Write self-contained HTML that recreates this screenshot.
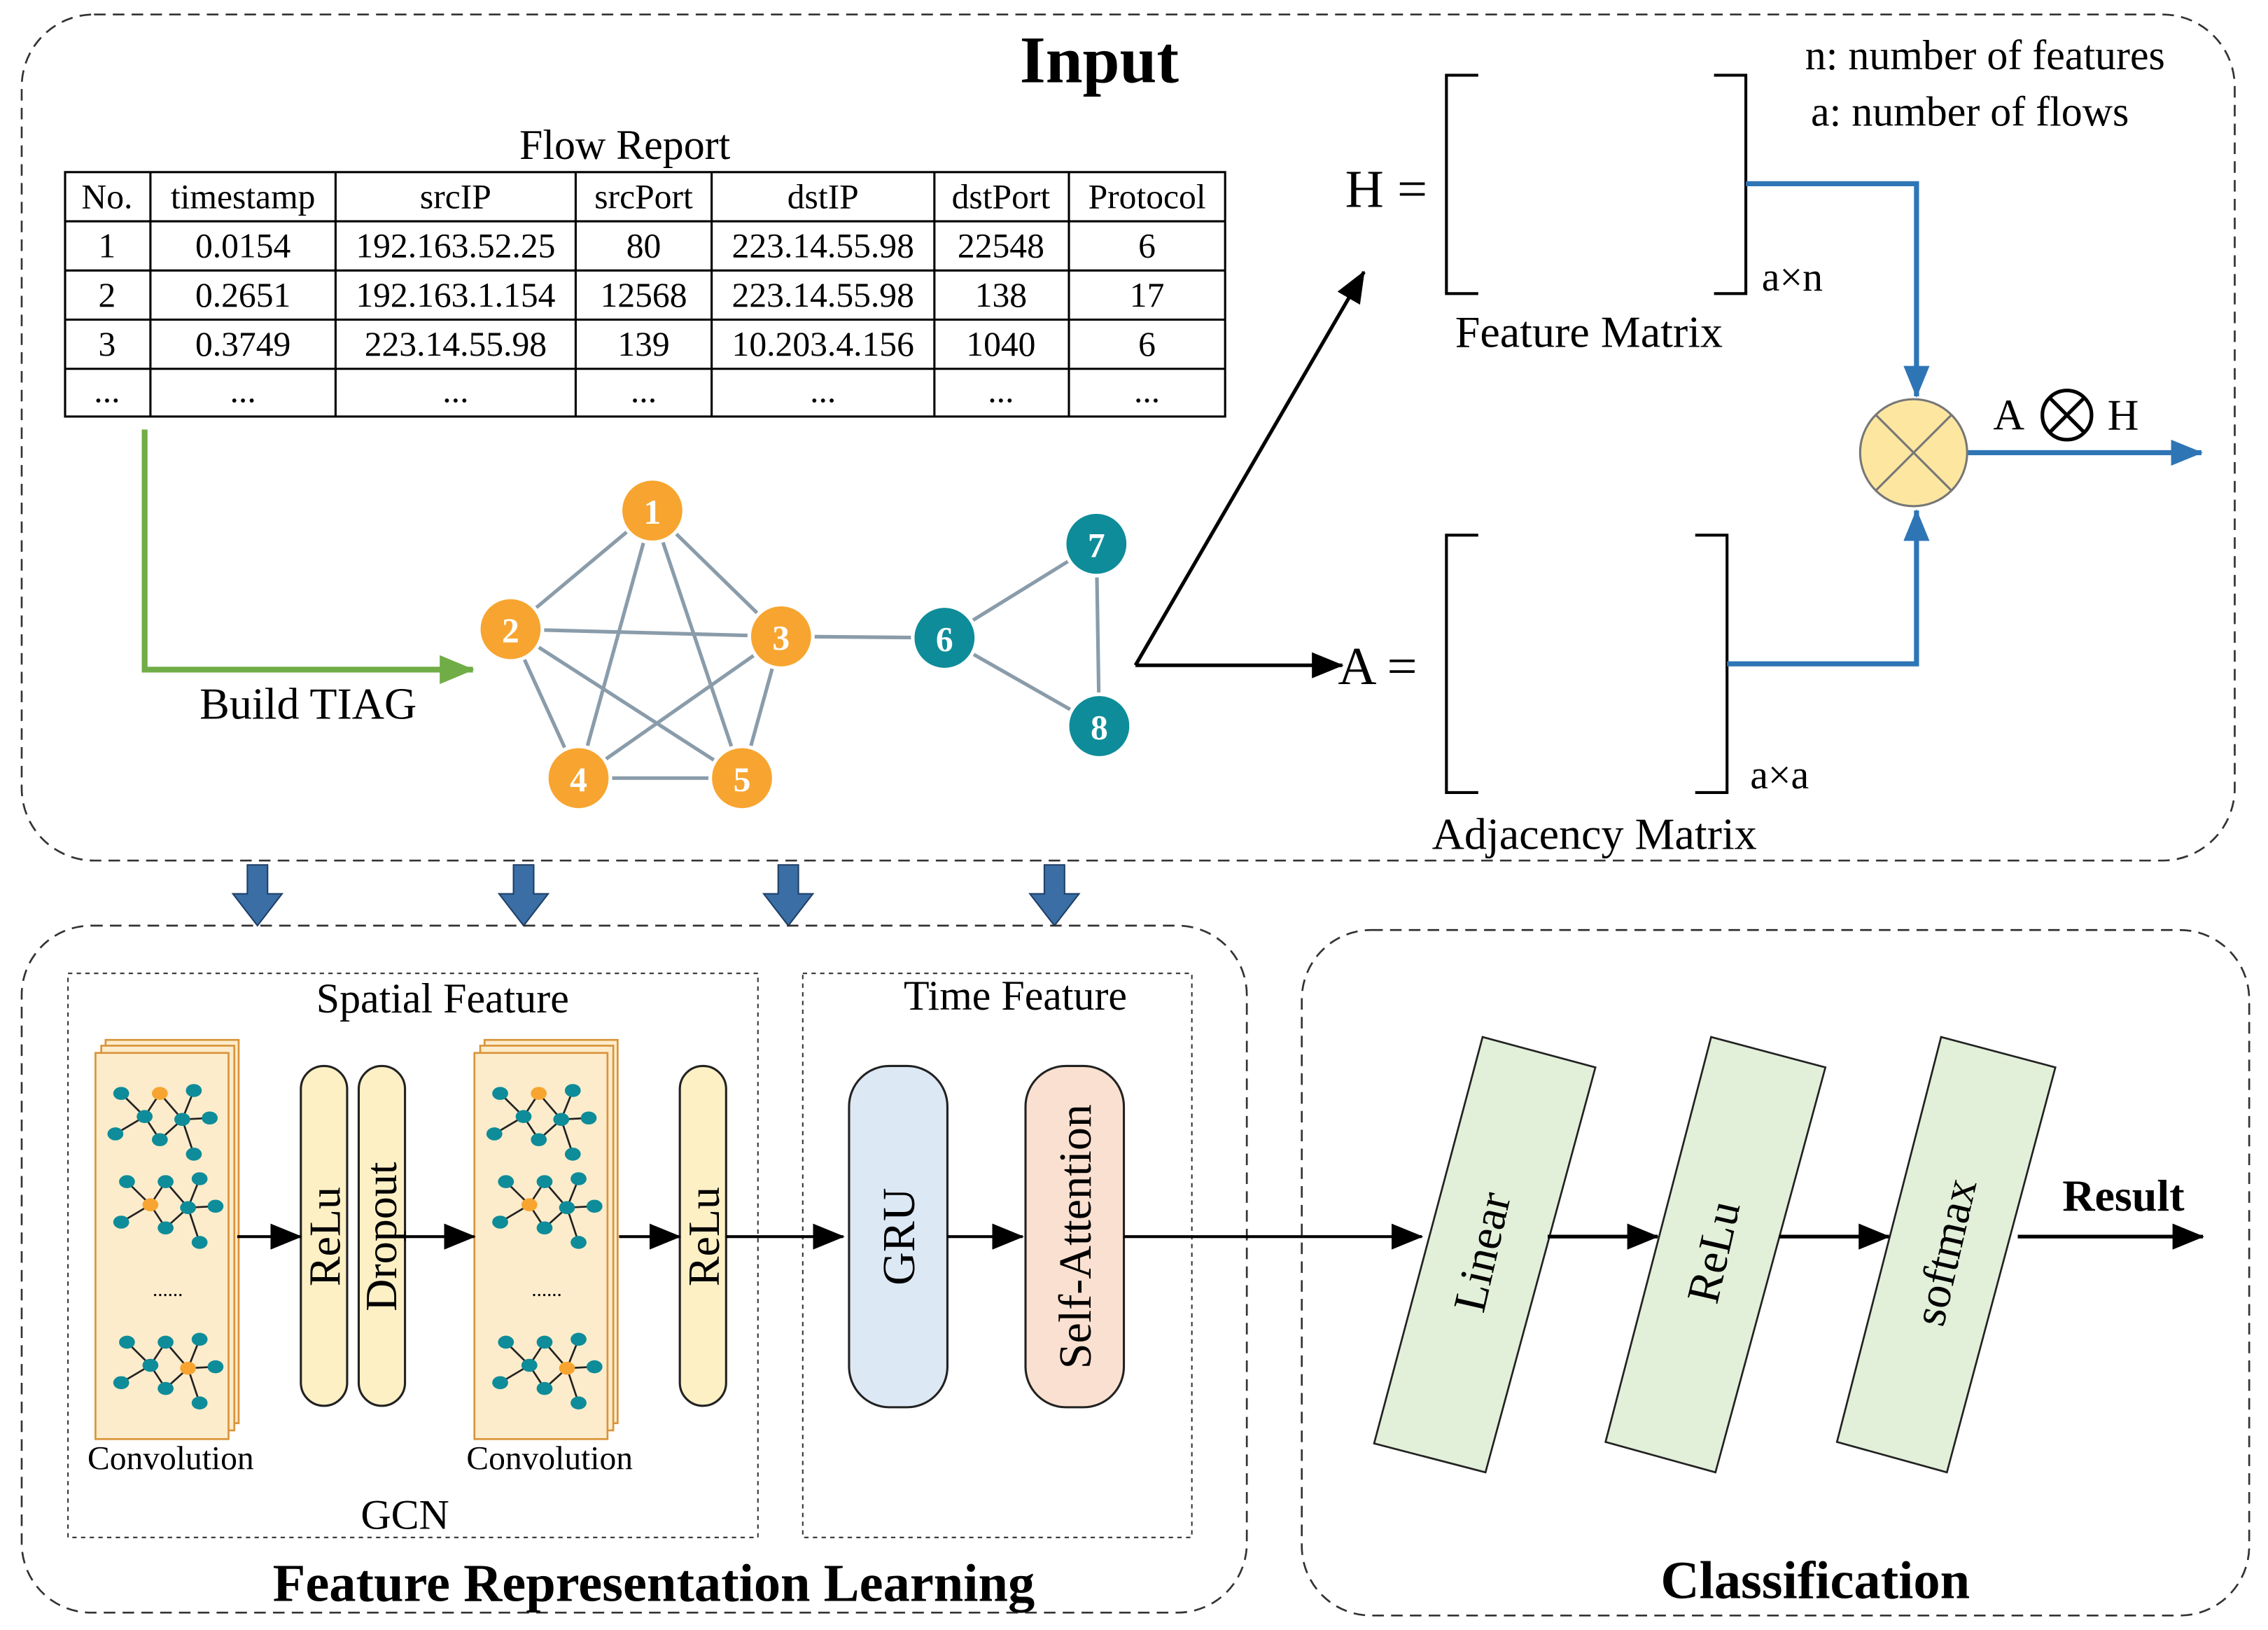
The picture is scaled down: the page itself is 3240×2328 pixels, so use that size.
<!DOCTYPE html>
<html><head><meta charset="utf-8"><style>
html,body{margin:0;padding:0;background:#fff;}
svg{display:block;}
text{font-family:"Liberation Serif",serif;fill:#000;}
</style></head><body>
<svg width="3240" height="2328" viewBox="0 0 1568 1127" preserveAspectRatio="none" xmlns="http://www.w3.org/2000/svg">
<defs>
<marker id="abk" markerWidth="22" markerHeight="18" refX="21" refY="9" orient="auto" markerUnits="userSpaceOnUse"><path d="M0,0 L22,9 L0,18 z" fill="#000"/></marker>
<marker id="abl" markerWidth="22" markerHeight="18" refX="21" refY="9" orient="auto" markerUnits="userSpaceOnUse"><path d="M0,0 L22,9 L0,18 z" fill="#2e75b6"/></marker>
<marker id="abg" markerWidth="24" markerHeight="20" refX="23" refY="10" orient="auto" markerUnits="userSpaceOnUse"><path d="M0,0 L24,10 L0,20 z" fill="#70ad47"/></marker>
<g id="mg">
 <g stroke="#222" stroke-width="1.3">
  <line x1="83.8" y1="756" x2="100" y2="772"/><line x1="110.5" y1="756" x2="100" y2="772"/>
  <line x1="110.5" y1="756" x2="126" y2="774"/><line x1="134" y1="754" x2="126" y2="774"/>
  <line x1="126" y1="774" x2="145" y2="773"/><line x1="126" y1="774" x2="134" y2="798"/>
  <line x1="100" y1="772" x2="79.8" y2="784"/><line x1="100" y1="772" x2="110.5" y2="788"/>
  <line x1="110.5" y1="788" x2="126" y2="774"/>
 </g>
 <g fill="#0e8c99">
  <ellipse cx="83.8" cy="756" rx="5.5" ry="4.5"/><ellipse cx="134" cy="754" rx="5.5" ry="4.5"/>
  <ellipse cx="145" cy="773" rx="5.5" ry="4.5"/><ellipse cx="79.8" cy="784" rx="5.5" ry="4.5"/>
  <ellipse cx="110.5" cy="788" rx="5.5" ry="4.5"/><ellipse cx="134" cy="798" rx="5.5" ry="4.5"/>
 </g>
</g>
</defs>

<rect x="15" y="10" width="1530" height="585" rx="50" fill="none" stroke="#333" stroke-width="1.3" stroke-dasharray="8,5"/>
<text x="760" y="57" font-size="46" font-weight="bold" text-anchor="middle">Input</text>
<text x="1248" y="48" font-size="29">n: number of features</text>
<text x="1252" y="87" font-size="29">a: number of flows</text>

<text x="432" y="110" font-size="29" text-anchor="middle">Flow Report</text>
<g stroke="#000" stroke-width="1.5" fill="none">
 <rect x="45" y="119" width="802" height="169"/>
 <line x1="45" y1="153" x2="847" y2="153"/><line x1="45" y1="187" x2="847" y2="187"/>
 <line x1="45" y1="221" x2="847" y2="221"/><line x1="45" y1="255" x2="847" y2="255"/>
 <line x1="104" y1="119" x2="104" y2="288"/><line x1="232" y1="119" x2="232" y2="288"/>
 <line x1="398" y1="119" x2="398" y2="288"/><line x1="492" y1="119" x2="492" y2="288"/>
 <line x1="646" y1="119" x2="646" y2="288"/><line x1="739" y1="119" x2="739" y2="288"/>
</g>
<g font-size="24" text-anchor="middle">
 <text x="74" y="144">No.</text><text x="168" y="144">timestamp</text><text x="315" y="144">srcIP</text><text x="445" y="144">srcPort</text><text x="569" y="144">dstIP</text><text x="692" y="144">dstPort</text><text x="793" y="144">Protocol</text>
 <text x="74" y="178">1</text><text x="168" y="178">0.0154</text><text x="315" y="178">192.163.52.25</text><text x="445" y="178">80</text><text x="569" y="178">223.14.55.98</text><text x="692" y="178">22548</text><text x="793" y="178">6</text>
 <text x="74" y="212">2</text><text x="168" y="212">0.2651</text><text x="315" y="212">192.163.1.154</text><text x="445" y="212">12568</text><text x="569" y="212">223.14.55.98</text><text x="692" y="212">138</text><text x="793" y="212">17</text>
 <text x="74" y="246">3</text><text x="168" y="246">0.3749</text><text x="315" y="246">223.14.55.98</text><text x="445" y="246">139</text><text x="569" y="246">10.203.4.156</text><text x="692" y="246">1040</text><text x="793" y="246">6</text>
 <text x="74" y="278">...</text><text x="168" y="278">...</text><text x="315" y="278">...</text><text x="445" y="278">...</text><text x="569" y="278">...</text><text x="692" y="278">...</text><text x="793" y="278">...</text>
</g>

<polyline points="100,297 100,463 327,463" fill="none" stroke="#70ad47" stroke-width="4" marker-end="url(#abg)"/>
<text x="138" y="497" font-size="31">Build TIAG</text>

<g stroke="#8a9caa" stroke-width="2.5">
 <line x1="451" y1="353" x2="353" y2="435"/><line x1="451" y1="353" x2="540" y2="440"/>
 <line x1="451" y1="353" x2="400" y2="538"/><line x1="451" y1="353" x2="513" y2="538"/>
 <line x1="353" y1="435" x2="540" y2="440"/><line x1="353" y1="435" x2="400" y2="538"/>
 <line x1="353" y1="435" x2="513" y2="538"/><line x1="540" y1="440" x2="400" y2="538"/>
 <line x1="540" y1="440" x2="513" y2="538"/><line x1="400" y1="538" x2="513" y2="538"/>
 <line x1="540" y1="440" x2="653" y2="441"/><line x1="653" y1="441" x2="758" y2="376"/>
 <line x1="653" y1="441" x2="760" y2="502"/><line x1="758" y1="376" x2="760" y2="502"/>
</g>
<g stroke="#fff" stroke-width="2.5">
 <circle cx="451" cy="353" r="22" fill="#f7a530"/><circle cx="353" cy="435" r="22" fill="#f7a530"/>
 <circle cx="540" cy="440" r="22" fill="#f7a530"/><circle cx="400" cy="538" r="22" fill="#f7a530"/>
 <circle cx="513" cy="538" r="22" fill="#f7a530"/>
 <circle cx="653" cy="441" r="22" fill="#0e8c99"/><circle cx="758" cy="376" r="22" fill="#0e8c99"/>
 <circle cx="760" cy="502" r="22" fill="#0e8c99"/>
</g>
<g font-size="24" font-weight="bold" text-anchor="middle">
 <text x="451" y="362" style="fill:#fff">1</text><text x="353" y="444" style="fill:#fff">2</text><text x="540" y="449" style="fill:#fff">3</text>
 <text x="400" y="547" style="fill:#fff">4</text><text x="513" y="547" style="fill:#fff">5</text><text x="653" y="450" style="fill:#fff">6</text>
 <text x="758" y="385" style="fill:#fff">7</text><text x="760" y="511" style="fill:#fff">8</text>
</g>

<line x1="785" y1="460" x2="943" y2="188" stroke="#000" stroke-width="2.5" marker-end="url(#abk)"/>
<line x1="785" y1="460" x2="928" y2="460" stroke="#000" stroke-width="2.5" marker-end="url(#abk)"/>

<text x="930" y="143" font-size="37">H =</text>
<polyline points="1022,52 1000,52 1000,203 1022,203" fill="none" stroke="#000" stroke-width="2"/>
<polyline points="1185,52 1207,52 1207,203 1185,203" fill="none" stroke="#000" stroke-width="2"/>
<text x="1218" y="201" font-size="28">a×n</text>
<text x="1006" y="240" font-size="31">Feature Matrix</text>
<text x="925" y="473" font-size="37">A =</text>
<polyline points="1022,370 1000,370 1000,548 1022,548" fill="none" stroke="#000" stroke-width="2"/>
<polyline points="1172,370 1194,370 1194,548 1172,548" fill="none" stroke="#000" stroke-width="2"/>
<text x="1210" y="545" font-size="28">a×a</text>
<text x="990" y="587" font-size="31">Adjacency Matrix</text>

<polyline points="1207,127 1325,127 1325,274" fill="none" stroke="#2e75b6" stroke-width="3.5" marker-end="url(#abl)"/>
<polyline points="1194,459 1325,459 1325,353" fill="none" stroke="#2e75b6" stroke-width="3.5" marker-end="url(#abl)"/>
<line x1="1360" y1="313" x2="1522" y2="313" stroke="#2e75b6" stroke-width="3.5" marker-end="url(#abl)"/>
<circle cx="1323" cy="313" r="37" fill="#fde7a0" stroke="#777" stroke-width="1.5"/>
<line x1="1297" y1="287" x2="1349" y2="339" stroke="#777" stroke-width="1.5"/>
<line x1="1349" y1="287" x2="1297" y2="339" stroke="#777" stroke-width="1.5"/>
<text x="1378" y="297" font-size="30">A</text>
<circle cx="1429" cy="287" r="17" fill="none" stroke="#000" stroke-width="2.5"/>
<line x1="1417" y1="275" x2="1441" y2="299" stroke="#000" stroke-width="2.5"/>
<line x1="1441" y1="275" x2="1417" y2="299" stroke="#000" stroke-width="2.5"/>
<text x="1457" y="297" font-size="30">H</text>

<g fill="#3a6ea5" stroke="#1f3f66" stroke-width="1">
 <path d="M171,598 h14 v20 h10 l-17,22 l-17,-22 h10 z"/>
 <path d="M355,598 h14 v20 h10 l-17,22 l-17,-22 h10 z"/>
 <path d="M538,598 h14 v20 h10 l-17,22 l-17,-22 h10 z"/>
 <path d="M722,598 h14 v20 h10 l-17,22 l-17,-22 h10 z"/>
</g>

<rect x="15" y="640" width="847" height="475" rx="48" fill="none" stroke="#333" stroke-width="1.3" stroke-dasharray="8,5"/>
<rect x="900" y="643" width="655" height="474" rx="48" fill="none" stroke="#333" stroke-width="1.3" stroke-dasharray="8,5"/>
<rect x="47" y="673" width="477" height="390" fill="none" stroke="#333" stroke-width="1" stroke-dasharray="3,3"/>
<rect x="555" y="673" width="269" height="390" fill="none" stroke="#333" stroke-width="1" stroke-dasharray="3,3"/>
<text x="306" y="700" font-size="29" text-anchor="middle">Spatial Feature</text>
<text x="702" y="698" font-size="29" text-anchor="middle">Time Feature</text>
<text x="280" y="1057" font-size="29" text-anchor="middle">GCN</text>
<text x="452" y="1107" font-size="37" font-weight="bold" text-anchor="middle">Feature Representation Learning</text>
<text x="1255" y="1105" font-size="37" font-weight="bold" text-anchor="middle">Classification</text>

<g id="stack">
 <rect x="73" y="719" width="92" height="265" fill="#fdeccb" stroke="#d9943a" stroke-width="1.3"/>
 <rect x="70" y="723" width="92" height="266" fill="#fdeccb" stroke="#d9943a" stroke-width="1.3"/>
 <rect x="66" y="728" width="92" height="267" fill="#fdeccb" stroke="#d9943a" stroke-width="1.3"/>
 <use href="#mg"/>
 <ellipse cx="110.5" cy="756" rx="5.5" ry="4.5" fill="#f7a530"/><ellipse cx="100" cy="772" rx="5.5" ry="4.5" fill="#0e8c99"/><ellipse cx="126" cy="774" rx="5.5" ry="4.5" fill="#0e8c99"/>
 <g transform="translate(4,61)"><use href="#mg"/>
  <ellipse cx="110.5" cy="756" rx="5.5" ry="4.5" fill="#0e8c99"/><ellipse cx="100" cy="772" rx="5.5" ry="4.5" fill="#f7a530"/><ellipse cx="126" cy="774" rx="5.5" ry="4.5" fill="#0e8c99"/></g>
 <text x="116" y="896" font-size="14" text-anchor="middle">......</text>
 <g transform="translate(4,172)"><use href="#mg"/>
  <ellipse cx="110.5" cy="756" rx="5.5" ry="4.5" fill="#0e8c99"/><ellipse cx="100" cy="772" rx="5.5" ry="4.5" fill="#0e8c99"/><ellipse cx="126" cy="774" rx="5.5" ry="4.5" fill="#f7a530"/></g>
 <text x="118" y="1016" font-size="23" text-anchor="middle">Convolution</text>
</g>
<use href="#stack" transform="translate(262,0)"/>

<rect x="208" y="737" width="32" height="235" rx="16" fill="#fdf0c5" stroke="#222" stroke-width="1.5"/>
<rect x="248" y="737" width="32" height="235" rx="16" fill="#fdf0c5" stroke="#222" stroke-width="1.5"/>
<rect x="470" y="737" width="32" height="235" rx="16" fill="#fdf0c5" stroke="#222" stroke-width="1.5"/>
<text transform="translate(235,855) rotate(-90)" font-size="31" text-anchor="middle">ReLu</text>
<text transform="translate(274,855) rotate(-90)" font-size="31" text-anchor="middle">Dropout</text>
<text transform="translate(497,855) rotate(-90)" font-size="31" text-anchor="middle">ReLu</text>
<rect x="587" y="737" width="68" height="236" rx="28" fill="#dde8f5" stroke="#222" stroke-width="1.5"/>
<rect x="709" y="737" width="68" height="236" rx="28" fill="#fae0d0" stroke="#222" stroke-width="1.5"/>
<text transform="translate(632,855) rotate(-90)" font-size="32" text-anchor="middle">GRU</text>
<text transform="translate(754,855) rotate(-90)" font-size="32" text-anchor="middle">Self-Attention</text>

<g stroke="#000" stroke-width="2">
 <line x1="164" y1="855" x2="208" y2="855" marker-end="url(#abk)"/>
 <line x1="280" y1="855" x2="328" y2="855" marker-end="url(#abk)"/>
 <line x1="428" y1="855" x2="470" y2="855" marker-end="url(#abk)"/>
 <line x1="502" y1="855" x2="583" y2="855" marker-end="url(#abk)"/>
 <line x1="655" y1="855" x2="707" y2="855" marker-end="url(#abk)"/>
 <line x1="777" y1="855" x2="983" y2="855" marker-end="url(#abk)"/>
</g>

<g fill="#e2efd9" stroke="#222" stroke-width="1.3">
 <polygon points="1025,717 1103,738 1027,1018 950,998"/>
 <polygon points="1183,717 1262,738 1186,1018 1110,997"/>
 <polygon points="1342,717 1421,738 1346,1018 1270,997"/>
</g>
<text transform="translate(1035,868) rotate(-77)" font-size="32" text-anchor="middle">Linear</text>
<text transform="translate(1195,868) rotate(-77)" font-size="32" text-anchor="middle">ReLu</text>
<text transform="translate(1355,868) rotate(-77)" font-size="32" text-anchor="middle">softmax</text>
<g stroke="#000" stroke-width="2.5">
 <line x1="1070" y1="855" x2="1146" y2="855" marker-end="url(#abk)"/>
 <line x1="1230" y1="855" x2="1306" y2="855" marker-end="url(#abk)"/>
 <line x1="1395" y1="855" x2="1523" y2="855" marker-end="url(#abk)"/>
</g>
<text x="1468" y="837" font-size="31" font-weight="bold" text-anchor="middle">Result</text>
</svg>
</body></html>
